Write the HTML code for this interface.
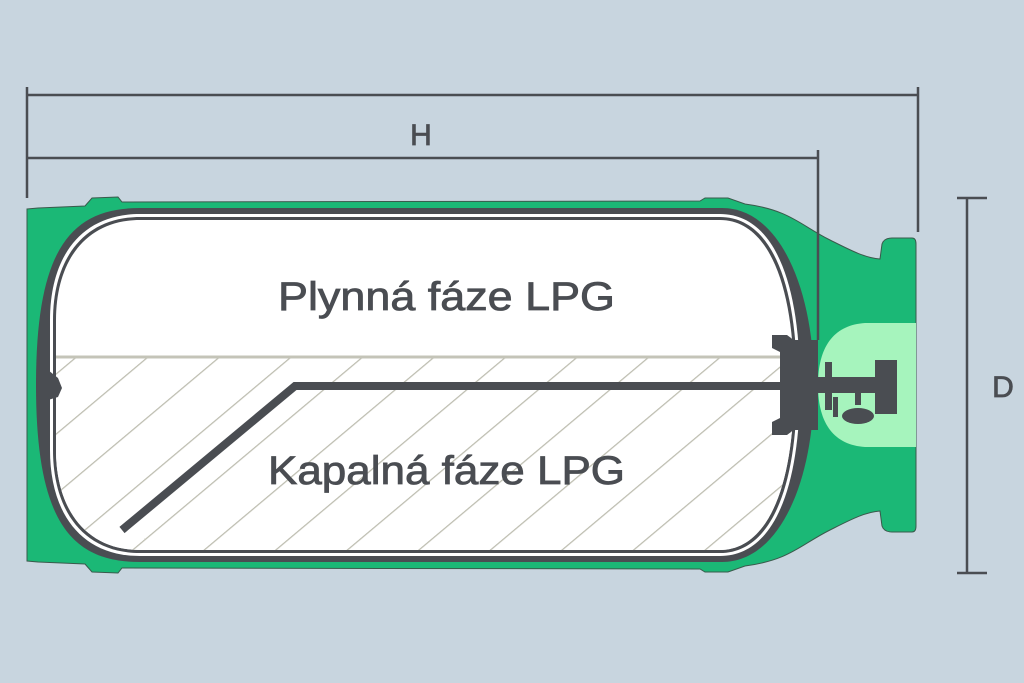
<!DOCTYPE html>
<html><head><meta charset="utf-8"><style>
html,body{margin:0;padding:0;background:#c8d5df;}
svg{display:block}
</style></head><body>
<svg width="1024" height="683" viewBox="0 0 1024 683" xmlns="http://www.w3.org/2000/svg">
<defs>
<pattern id="h" patternUnits="userSpaceOnUse" width="46" height="46" patternTransform="rotate(-40)">
<rect width="46" height="46" fill="#fff"/>
<line x1="0" y1="0" x2="46" y2="0" stroke="#bdbdb0" stroke-width="2.4"/>
</pattern>
</defs>
<rect width="1024" height="683" fill="#c8d5df"/>
<!-- green body -->
<path d="M27,209 L38,208 L85,206 L92,198 L118,197 L122,202 L700,201 L705,198 L728,198 L745,204 C790,210 800,225 830,240 C850,250 865,258 880,259 L882,244 Q884,238 892,238 L912,238 Q916,238 916,244 L916,526 Q916,532 912,532 L892,532 Q884,532 882,526 L880,511 C865,512 850,520 830,530 C800,545 790,560 745,566 L728,572 L705,572 L700,569 L122,568 L118,573 L92,572 L85,564 L38,562 L27,561 Z" fill="#1bb876" stroke="#3a5a4c" stroke-width="1"/>
<!-- light green valve area -->
<path d="M916,323 L865,323 C835,325 818,345 818,385 C818,425 835,445 865,447 L916,447 Z" fill="#a6f4bd"/>
<!-- dark shell -->
<path d="M140,208 L722,208 C780,208 814,290 814,385 C814,480 780,562 722,562 L140,562 C70,562 36,520 36,385 C36,250 70,208 140,208 Z" fill="#4a4d52"/>
<!-- white gap ring -->
<path d="M140,214 L720,214 C774,214 800,282 800,385 C800,488 774,556 720,556 L140,556 C80,556 50,512 50,450 L50,320 C50,258 80,214 140,214 Z" fill="#fff"/>
<path d="M140,217 L720,217 C770,217 797,280 797,385 C797,490 770,553 720,553 L140,553 C83,553 53,510 53,450 L53,320 C53,260 83,217 140,217 Z" fill="#4a4d52"/>
<path d="M140,220 L720,220 C767,220 794,282 794,385 C794,488 767,550 720,550 L140,550 C85,550 56,508 56,450 L56,320 C56,262 85,220 140,220 Z" fill="#fff"/>
<clipPath id="liq"><path d="M140,220 L720,220 C767,220 794,282 794,385 C794,488 767,550 720,550 L140,550 C85,550 56,508 56,450 L56,320 C56,262 85,220 140,220 Z"/></clipPath>
<rect x="50" y="357" width="760" height="200" fill="url(#h)" clip-path="url(#liq)"/>
<line x1="56" y1="357" x2="794" y2="357" stroke="#c4c4b8" stroke-width="3"/>
<!-- left notch -->
<path d="M48,370 L58,378 L62,388 L58,397 L48,400 Z" fill="#4a4d52"/>
<!-- right flange inside -->
<path d="M787,335 L772,335 L772,348 L780,352 L780,418 L772,422 L772,435 L787,435 Q795,430 800,420 L800,350 Q795,340 787,335 Z" fill="#4a4d52"/>
<rect x="790" y="340" width="28" height="90" fill="#4a4d52"/>
<!-- pipe -->
<polyline points="122,530 295,386 800,386" fill="none" stroke="#4a4d52" stroke-width="8" stroke-linejoin="miter"/>
<!-- valve -->
<rect x="816" y="377" width="62" height="16" fill="#4a4d52"/>
<rect x="875" y="360" width="22" height="54" fill="#4a4d52"/>
<rect x="825" y="362" width="7" height="48" fill="#4a4d52"/>
<rect x="833" y="397" width="5" height="20" fill="#4a4d52"/>
<rect x="855" y="393" width="6" height="12" fill="#4a4d52"/>
<ellipse cx="858" cy="416" rx="16" ry="8" fill="#4a4d52"/>
<!-- dimension lines -->
<g stroke="#4a4d52" stroke-width="2.5" fill="none">
<line x1="27" y1="95" x2="918" y2="95"/>
<line x1="27" y1="87" x2="27" y2="198"/>
<line x1="918" y1="87" x2="918" y2="232"/>
<line x1="27" y1="158" x2="818" y2="158"/>
<line x1="818" y1="150" x2="818" y2="340"/>
<line x1="967" y1="198" x2="967" y2="573"/>
<line x1="957" y1="198" x2="987" y2="198"/>
<line x1="957" y1="573" x2="987" y2="573"/>
</g>
<g font-family="Liberation Sans, sans-serif" fill="#4a4d52" stroke="#4a4d52" stroke-width="0.8">
<text x="421" y="145" font-size="30" text-anchor="middle">H</text>
<text x="1003" y="397" font-size="30" text-anchor="middle">D</text>
<text x="278" y="310" font-size="40" textLength="337" lengthAdjust="spacingAndGlyphs">Plynná fáze LPG</text>
<text x="268" y="484" font-size="40" textLength="357" lengthAdjust="spacingAndGlyphs">Kapalná fáze LPG</text>
</g>
</svg>
</body></html>
